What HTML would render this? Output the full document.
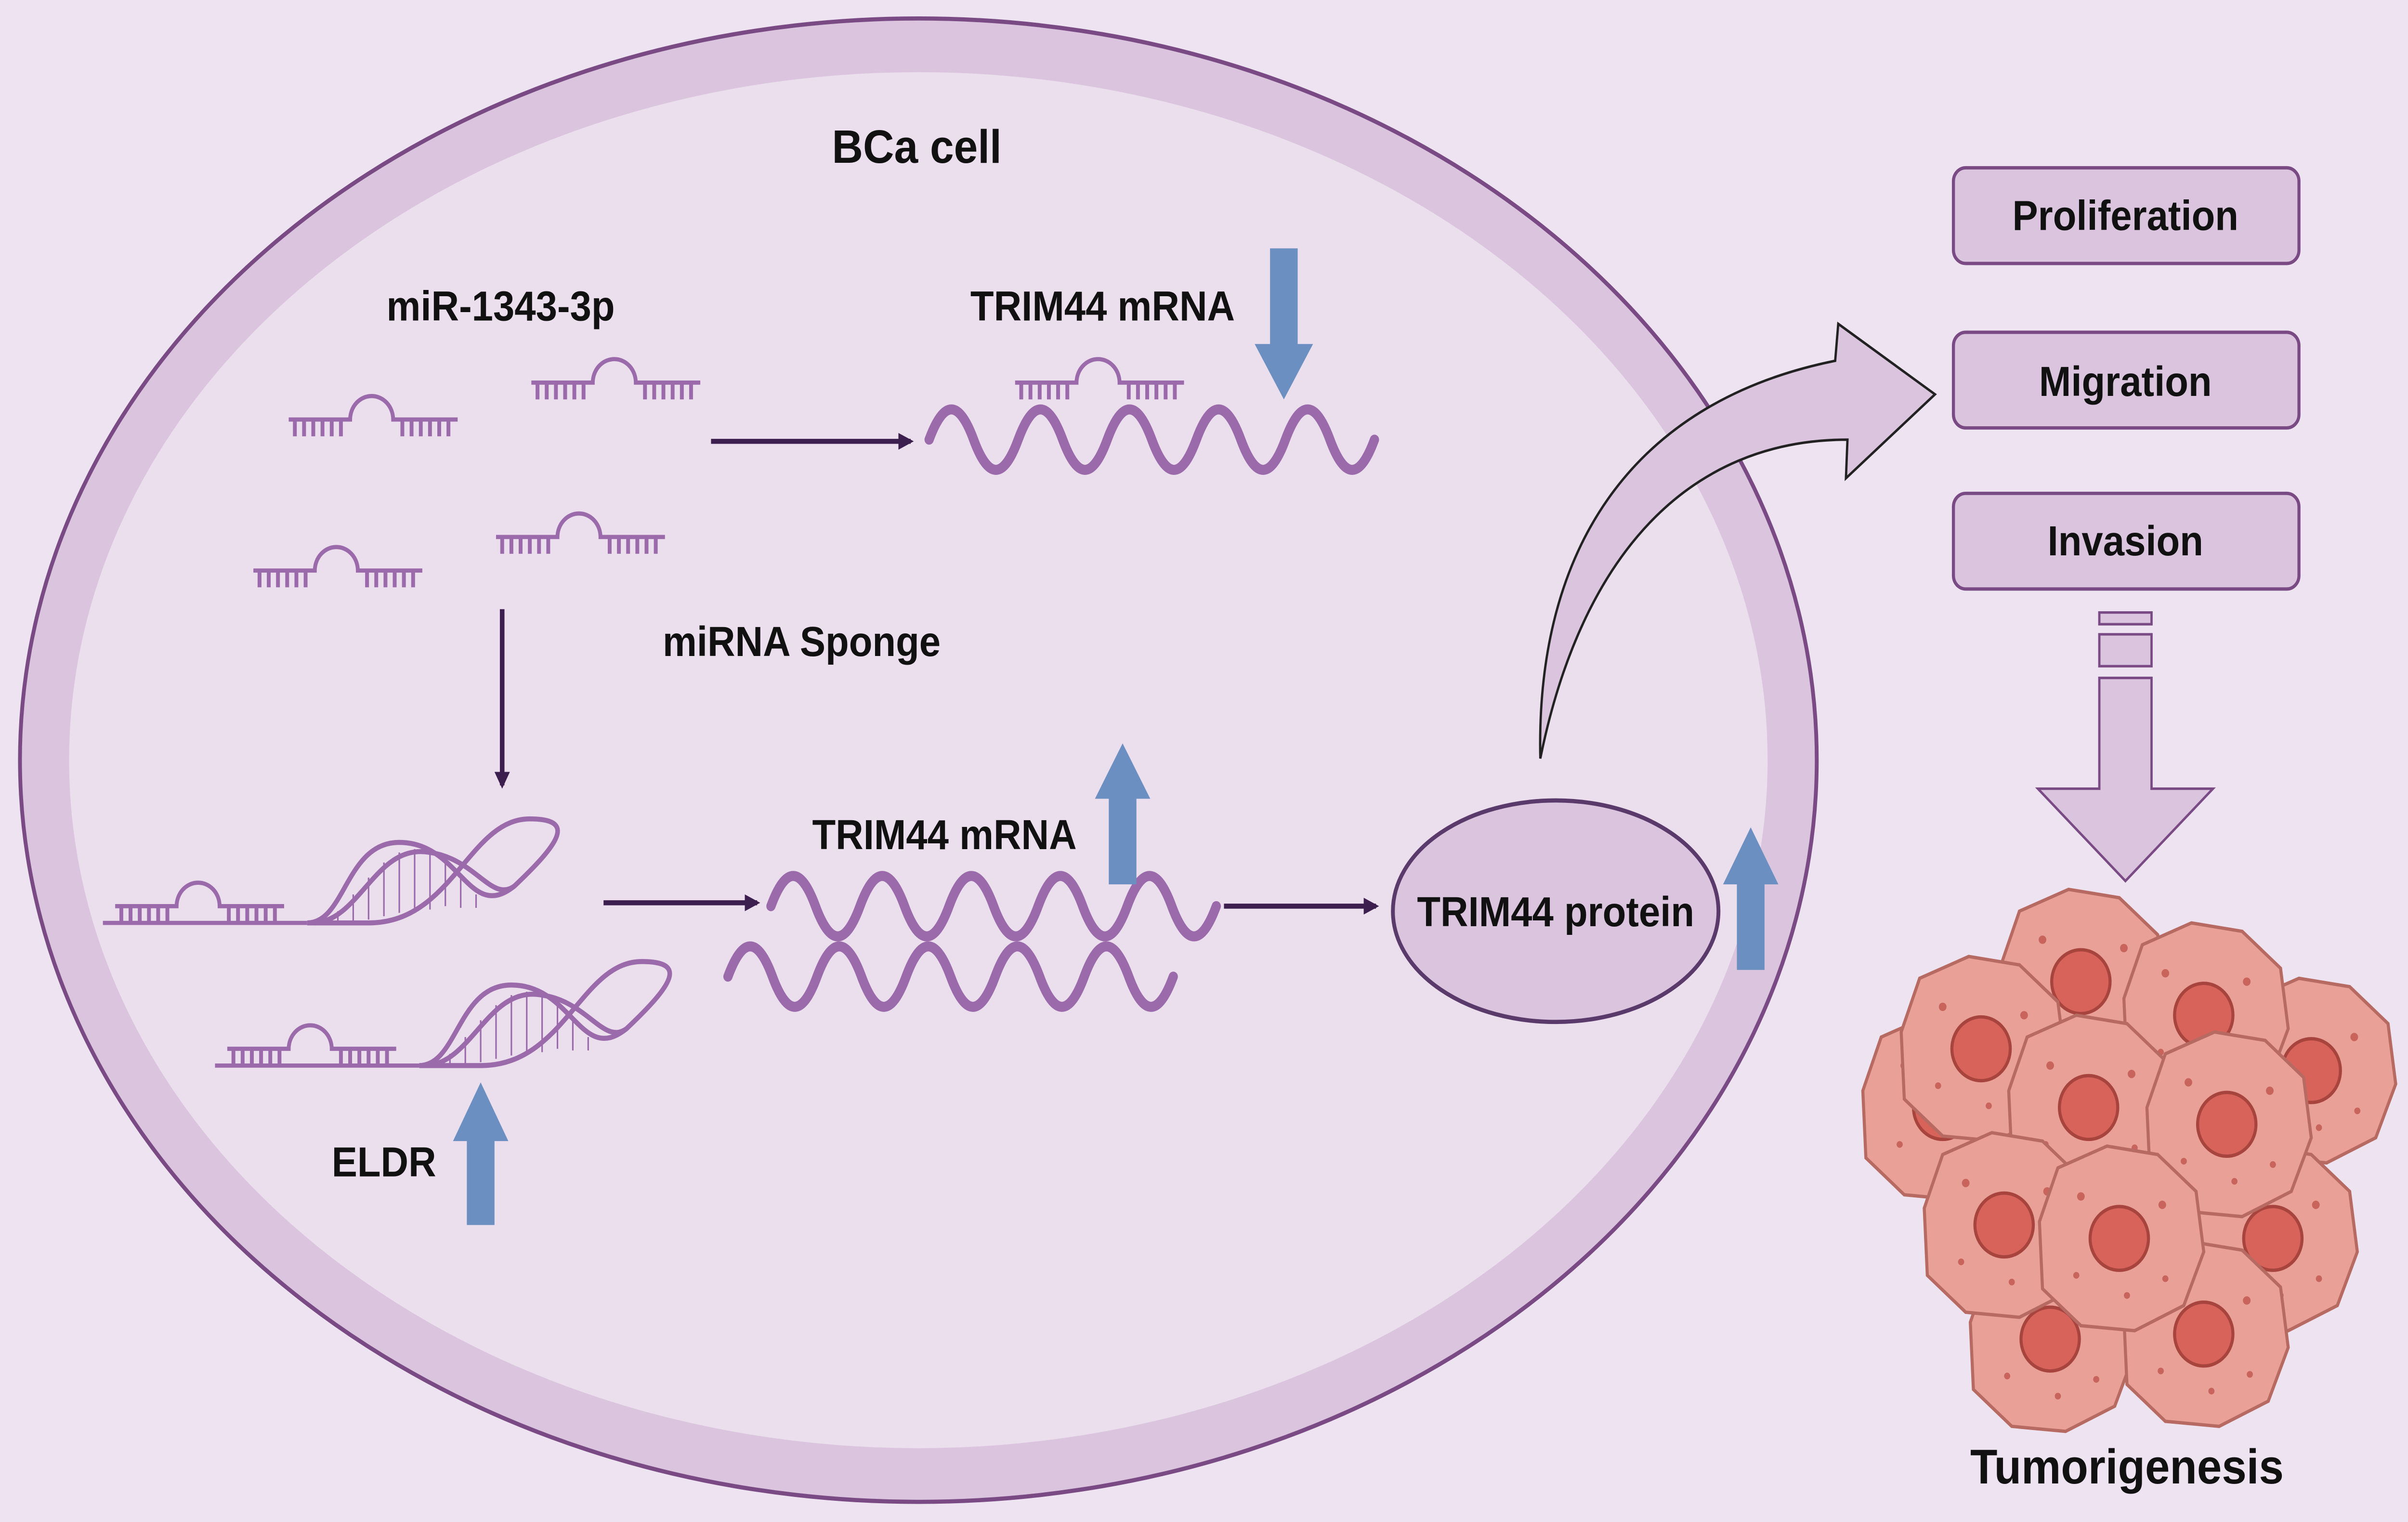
<!DOCTYPE html>
<html><head><meta charset="utf-8"><style>
html,body{margin:0;padding:0;background:#eee3f0;width:100vw;height:100vh;overflow:hidden;}
svg{display:block;width:100vw;height:100vh;}
text{font-family:"Liberation Sans",sans-serif;font-weight:bold;fill:#111;}
</style></head><body>
<svg viewBox="0 0 1568 907" preserveAspectRatio="none" xmlns="http://www.w3.org/2000/svg">
<defs>
<g id="mir" fill="none" stroke="#9b6aab" stroke-width="2.5">
<path d="M0 0 H40 A14 14 0 0 1 68 0 H110"/>
<path d="M4 0 v10 M10 0 v10 M16 0 v10 M22 0 v10 M28 0 v10 M34 0 v10 M74 0 v10 M80 0 v10 M86 0 v10 M92 0 v10 M98 0 v10 M104 0 v10"/>
</g>
<path id="wave" d="M0 0 q14.5 -36 29 0 t29 0 t29 0 t29 0 t29 0 t29 0 t29 0 t29 0 t29 0 t29 0" fill="none" stroke="#9b6aab" stroke-width="6" stroke-linecap="round"/>
<g id="sponge">
<use href="#mir" x="0" y="-8"/>
<path d="M-8 2 H125" stroke="#9b6aab" stroke-width="2.5"/>
<path d="M125 2 C150 2 150 -46 185 -46 C225 -46 230 2 260 -20 C290 -46 300 -60 270 -60 C230 -60 220 2 165 2 Z" fill="none" stroke="#9b6aab" stroke-width="3"/>
<path d="M130 2 C160 0 170 -46 205 -40 C235 -36 245 -10 260 -20" fill="none" stroke="#9b6aab" stroke-width="3"/>
<path d="M145 -5v6 M155 -15v16 M165 -25v25 M175 -34v32 M185 -40v36 M195 -42v36 M205 -40v34 M215 -34v26 M225 -25v18 M235 -15v8" stroke="#9b6aab" stroke-width="1"/>
</g>
<g id="tcell">
<path d="M-52 -10 L-40 -42 L-8 -55 L25 -50 L50 -28 L55 8 L42 40 L10 55 L-25 52 L-50 30 Z" fill="#e9a197" stroke="#b76a62" stroke-width="2"/>
<circle r="19" fill="#d8635b" stroke="#a8443e" stroke-width="2"/>
<circle cx="-25" cy="-25" r="2.5" fill="#c8645c"/><circle cx="28" cy="-20" r="2.5" fill="#c8645c"/><circle cx="30" cy="24" r="2" fill="#c8645c"/><circle cx="-28" cy="22" r="2" fill="#c8645c"/><circle cx="5" cy="34" r="2" fill="#c8645c"/>
</g>
<marker id="ah" markerWidth="10" markerHeight="10" refX="8" refY="5" orient="auto" markerUnits="userSpaceOnUse"><path d="M0 0 L10 5 L0 10 Z" fill="#3d1f4f"/></marker>
</defs>
<rect width="1568" height="907" fill="#eee3f0"/>
<ellipse cx="598" cy="453" rx="585" ry="442" fill="#dac4de" stroke="#7a4a84" stroke-width="2.5"/>
<ellipse cx="598" cy="453" rx="553" ry="410" fill="#ebdeed"/>
<text x="597" y="97" font-size="28" text-anchor="middle">BCa cell</text>
<text x="326" y="191" font-size="25" text-anchor="middle">miR-1343-3p</text>
<use href="#mir" x="188" y="250"/><use href="#mir" x="346" y="228"/>
<use href="#mir" x="165" y="340"/><use href="#mir" x="323" y="320"/>
<line x1="463" y1="263" x2="593" y2="263" stroke="#3d1f4f" stroke-width="3" marker-end="url(#ah)"/>
<text x="718" y="191" font-size="25" text-anchor="middle">TRIM44 mRNA</text>
<use href="#mir" x="661" y="228"/>
<use href="#wave" x="605" y="262"/>
<path d="M827 148 H845 V205 H855 L836 238 L817 205 H827 Z" fill="#6b8fc0"/>
<text x="522" y="391" font-size="25" text-anchor="middle">miRNA Sponge</text>
<line x1="327" y1="363" x2="327" y2="468" stroke="#3d1f4f" stroke-width="3" marker-end="url(#ah)"/>
<use href="#sponge" x="75" y="548"/>
<use href="#sponge" x="148" y="633"/>
<text x="250" y="701" font-size="25" text-anchor="middle">ELDR</text>
<path d="M304 730 V680 H295 L313 645 L331 680 H322 V730 Z" fill="#6b8fc0"/>
<line x1="393" y1="538" x2="493" y2="538" stroke="#3d1f4f" stroke-width="3" marker-end="url(#ah)"/>
<text x="615" y="506" font-size="25" text-anchor="middle">TRIM44 mRNA</text>
<use href="#wave" x="502" y="540"/>
<use href="#wave" x="474" y="582"/>
<path d="M722 527 V476 H713 L731 443 L749 476 H740 V527 Z" fill="#6b8fc0"/>
<line x1="797" y1="540" x2="896" y2="540" stroke="#3d1f4f" stroke-width="3" marker-end="url(#ah)"/>
<ellipse cx="1013" cy="543" rx="106" ry="66" fill="#dac4de" stroke="#5a3a6a" stroke-width="2.5"/>
<text x="1013" y="552" font-size="25" text-anchor="middle">TRIM44 protein</text>
<path d="M1131 578 V527 H1122 L1140 493 L1158 527 H1149 V578 Z" fill="#6b8fc0"/>
<path d="M1003 452 C1000 330 1060 240 1195 215 L1197 193 L1260 235 L1202 285 L1203 262 C1100 262 1030 330 1003 452 Z" fill="#dac4de" stroke="#222" stroke-width="1.5"/>
<rect x="1272" y="100" width="225" height="57" rx="8" fill="#dac4de" stroke="#7a4a84" stroke-width="2"/>
<rect x="1272" y="198" width="225" height="57" rx="8" fill="#dac4de" stroke="#7a4a84" stroke-width="2"/>
<rect x="1272" y="294" width="225" height="57" rx="8" fill="#dac4de" stroke="#7a4a84" stroke-width="2"/>
<text x="1384" y="137" font-size="25" text-anchor="middle">Proliferation</text>
<text x="1384" y="236" font-size="25" text-anchor="middle">Migration</text>
<text x="1384" y="331" font-size="25" text-anchor="middle">Invasion</text>
<rect x="1367" y="365" width="34" height="7" fill="#dac4de" stroke="#7a4a84" stroke-width="1.5"/>
<rect x="1367" y="378" width="34" height="19" fill="#dac4de" stroke="#7a4a84" stroke-width="1.5"/>
<path d="M1367 404 H1401 V470 H1441 L1384 525 L1327 470 H1367 Z" fill="#dac4de" stroke="#7a4a84" stroke-width="1.5"/>
<use href="#tcell" x="1265" y="660"/><use href="#tcell" x="1505" y="638"/>
<use href="#tcell" x="1355" y="585"/><use href="#tcell" x="1435" y="605"/>
<use href="#tcell" x="1290" y="625"/><use href="#tcell" x="1360" y="660"/>
<use href="#tcell" x="1480" y="738"/><use href="#tcell" x="1450" y="670"/>
<use href="#tcell" x="1335" y="798"/><use href="#tcell" x="1435" y="795"/>
<use href="#tcell" x="1305" y="730"/><use href="#tcell" x="1380" y="738"/>
<text x="1385" y="884" font-size="29" text-anchor="middle">Tumorigenesis</text>
</svg>
</body></html>
